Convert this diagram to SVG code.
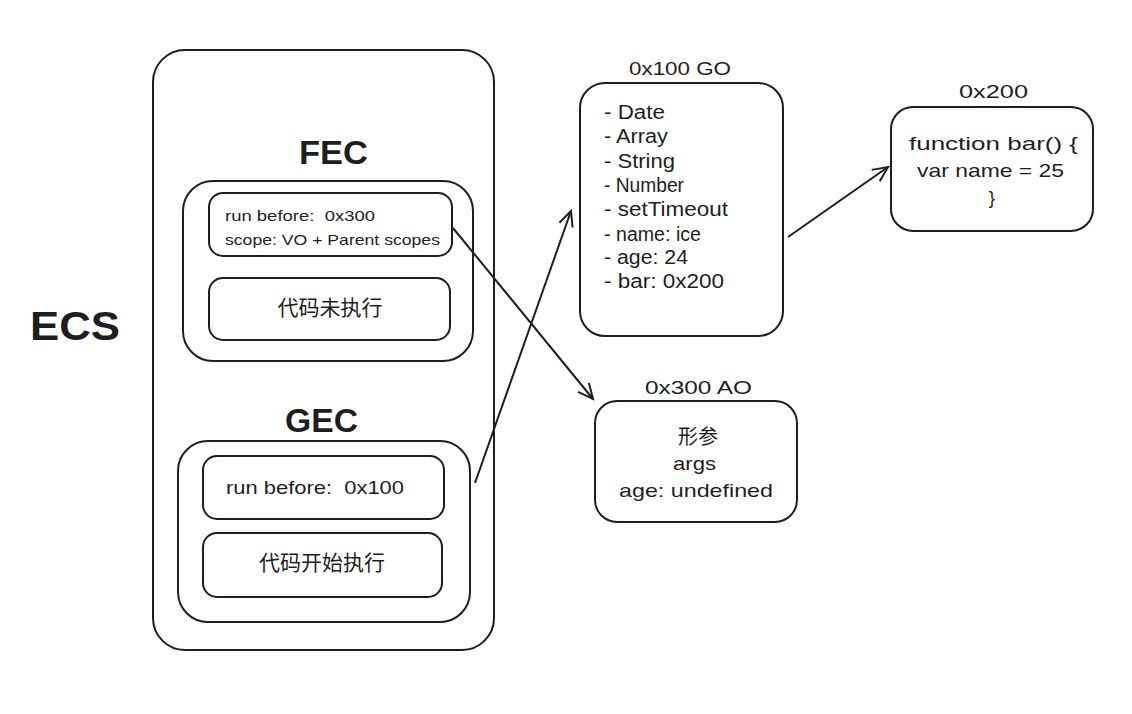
<svg xmlns="http://www.w3.org/2000/svg" width="1132" height="714" viewBox="0 0 1132 714">
<style>
.b{fill:none;stroke:#1e1e1e;stroke-width:2}
.t{font-family:"Liberation Sans","Noto Sans CJK SC",sans-serif;fill:#1e1e1e;white-space:pre}
.h{font-family:"Liberation Sans","Noto Sans CJK SC",sans-serif;fill:#1e1e1e;font-weight:bold}
.c{stroke:#1e1e1e;stroke-width:2;fill:none}
</style>
<defs>
<marker id="ah" markerWidth="20" markerHeight="20" refX="17" refY="10" orient="auto" markerUnits="userSpaceOnUse">
<path d="M2,3 L17,10 L2,17" fill="none" stroke="#1e1e1e" stroke-width="2"/>
</marker>
</defs>
<rect width="1132" height="714" fill="#ffffff"/>
<g id="ecs-label"><text class="h" x="30" y="340" font-size="40" textLength="90" lengthAdjust="spacingAndGlyphs">ECS</text></g>
<g id="ecs"><rect class="b" x="153" y="50" width="341" height="600" rx="32"/></g>
<g id="fec-label"><text class="h" x="299" y="164" font-size="34" textLength="69" lengthAdjust="spacingAndGlyphs">FEC</text></g>
<g id="fec"><rect class="b" x="183" y="181" width="290" height="180" rx="30"/></g>
<g id="fec-scope">
<rect class="b" x="209" y="193" width="243" height="63" rx="14"/>
<text class="t" x="225" y="221" font-size="15" textLength="150" lengthAdjust="spacingAndGlyphs">run before:  0x300</text>
<text class="t" x="225" y="245" font-size="15" textLength="215" lengthAdjust="spacingAndGlyphs">scope: VO + Parent scopes</text>
</g>
<g id="fec-code">
<rect class="b" x="209" y="278" width="241" height="62" rx="14"/>
<text class="t" x="330" y="315" font-size="21" text-anchor="middle">代码未执行</text>
</g>
<g id="gec-label"><text class="h" x="285" y="432" font-size="34" textLength="73" lengthAdjust="spacingAndGlyphs">GEC</text></g>
<g id="gec"><rect class="b" x="178" y="441" width="292" height="181" rx="30"/></g>
<g id="gec-scope">
<rect class="b" x="203" y="456" width="241" height="63" rx="14"/>
<text class="t" x="226" y="494" font-size="19" textLength="178" lengthAdjust="spacingAndGlyphs">run before:  0x100</text>
</g>
<g id="gec-code">
<rect class="b" x="203" y="533" width="239" height="64" rx="14"/>
<text class="t" x="322" y="570" font-size="21" text-anchor="middle">代码开始执行</text>
</g>
<g id="go">
<text class="t" x="629" y="75" font-size="19" textLength="102" lengthAdjust="spacingAndGlyphs">0x100 GO</text>
<rect class="b" x="580" y="83" width="203" height="253" rx="25"/>
<text class="t" x="604" y="119" font-size="20" textLength="61" lengthAdjust="spacingAndGlyphs">- Date</text>
<text class="t" x="604" y="143" font-size="20" textLength="64" lengthAdjust="spacingAndGlyphs">- Array</text>
<text class="t" x="604" y="168" font-size="20" textLength="71" lengthAdjust="spacingAndGlyphs">- String</text>
<text class="t" x="604" y="192" font-size="20" textLength="80" lengthAdjust="spacingAndGlyphs">- Number</text>
<text class="t" x="604" y="216" font-size="20" textLength="124" lengthAdjust="spacingAndGlyphs">- setTimeout</text>
<text class="t" x="604" y="241" font-size="20" textLength="97" lengthAdjust="spacingAndGlyphs">- name: ice</text>
<text class="t" x="604" y="264" font-size="20" textLength="84" lengthAdjust="spacingAndGlyphs">- age: 24</text>
<text class="t" x="604" y="288" font-size="20" textLength="120" lengthAdjust="spacingAndGlyphs">- bar: 0x200</text>
</g>
<g id="ao">
<text class="t" x="645" y="394" font-size="19" textLength="107" lengthAdjust="spacingAndGlyphs">0x300 AO</text>
<rect class="b" x="595" y="401" width="202" height="121" rx="22"/>
<text class="t" x="698" y="444" font-size="20" text-anchor="middle">形参</text>
<text class="t" x="673" y="470" font-size="19" textLength="43" lengthAdjust="spacingAndGlyphs">args</text>
<text class="t" x="619" y="497" font-size="19" textLength="154" lengthAdjust="spacingAndGlyphs">age: undefined</text>
</g>
<g id="bar">
<text class="t" x="959" y="98" font-size="19" textLength="69" lengthAdjust="spacingAndGlyphs">0x200</text>
<rect class="b" x="891" y="107" width="202" height="124" rx="22"/>
<text class="t" x="909" y="150" font-size="19" textLength="169" lengthAdjust="spacingAndGlyphs">function bar() {</text>
<text class="t" x="917" y="177" font-size="19" textLength="147" lengthAdjust="spacingAndGlyphs">var name = 25</text>
<text class="t" x="992" y="204" font-size="19" text-anchor="middle">}</text>
</g>
<g id="connectors">
<path class="c" d="M453,228 L593,399" marker-end="url(#ah)"/>
<path class="c" d="M475,483 L571,211" marker-end="url(#ah)"/>
<path class="c" d="M788,237 L888,167" marker-end="url(#ah)"/>
</g>
</svg>
